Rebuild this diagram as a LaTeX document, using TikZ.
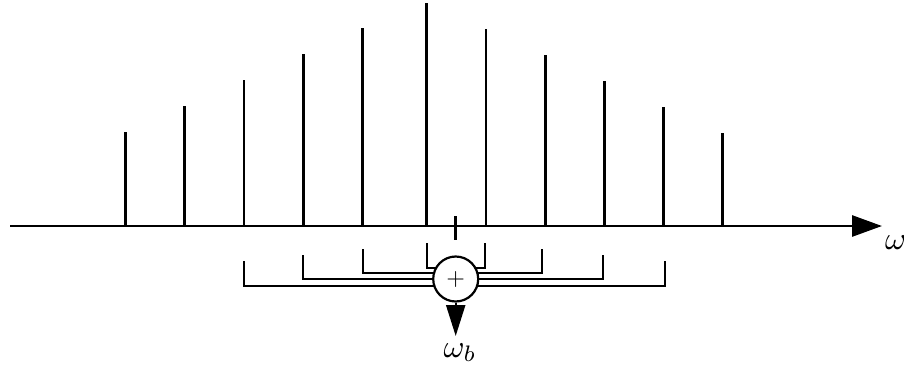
\documentclass[tikz,border=0pt]{standalone}
\usepackage{graphicx}
\usetikzlibrary{arrows.meta}
\begin{document}
\begin{tikzpicture}[x=1pt,y=-1pt,
  spec/.style={line width=2.8pt},
  brk/.style={line width=2.2pt},
  lab/.style={inner sep=0pt}]
\useasboundingbox (0,0) rectangle (904,375);
% axis
\coordinate (a0) at (10,226);
\coordinate (a1) at (882,226);
\draw[line width=2.8pt,-{Triangle[length=30pt,width=21pt]}] (a0) -- (a1);
\node[lab, anchor=base west] (w) at (885,249) {\scalebox{3.2}{$\omega$}};
% spectral lines
\foreach \x/\t in {125.7/132,184.7/106,244/80,303.3/54,362.3/28,426.7/3,486/29,545.3/55,604.3/81,663.3/107,722.7/133}
  \draw[spec] (\x,226) -- (\x,\t);
% small tick
\draw[brk] (455.5,216) -- (455.5,240);
% brackets
\coordinate (c) at (455.7,279);
\foreach \l/\r/\t/\b in {426.7/485/243/268, 362.7/542/249/273, 302.7/603/255/279, 244/665/261/286}{
  \draw[brk] (\l,\t) -- (\l,\b) -- (c |- 0,\b) -- (\r,\b) -- (\r,\t);
}
\node[circle, draw, line width=2.2pt, fill=white, minimum size=45pt, inner sep=0pt] (s) at (c) {\scalebox{2.4}{$+$}};
\coordinate (tip) at (455.7,336);
\draw[line width=2.2pt,-{Triangle[length=31pt,width=19pt]}] (s.south) -- (tip);
\node[lab, anchor=base] (wb) at (460,357) {\scalebox{3.2}{$\omega_b$}};
\end{tikzpicture}
\end{document}
